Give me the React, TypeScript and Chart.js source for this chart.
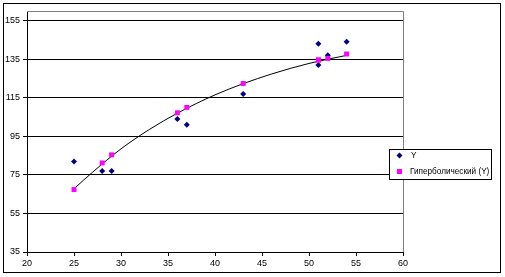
import React, { useEffect, useRef } from 'react';
import { Chart, registerables } from 'chart.js';

Chart.register(...registerables);

// Data
const xValues = [25, 28, 29, 36, 37, 43, 51, 51, 52, 54];
const yActual = [82, 77, 77, 104, 101, 117, 143, 132, 137, 144];
const yHyperbolic = [67.4, 81.2, 85.4, 107.2, 110.0, 122.4, 134.6, 134.6, 135.4, 137.7];
const trendX = [25, 27, 30, 33, 36, 40, 43, 46, 50, 54];
const trendY = [67.8, 76.5, 88.5, 98.5, 107, 116.5, 122.3, 127.3, 132.8, 137.0];
const seriesNames = ['Y', 'Гиперболический (Y)'];
const xTicks = [20, 25, 30, 35, 40, 45, 50, 55, 60];
const yTicks = [35, 55, 75, 95, 115, 135, 155];

const FONT = '"Liberation Sans", Arial, sans-serif';
const NAVY = '#000080';
const MAGENTA = '#FF00FF';

const framePlugin = {
  id: 'framePlugin',
  beforeDraw(chart: any) {
    const ctx = chart.ctx;
    ctx.save();
    ctx.fillStyle = '#ffffff';
    ctx.fillRect(0, 0, chart.width, chart.height);
    ctx.restore();
  },
  afterDraw(chart: any) {
    const ctx = chart.ctx;
    const a = chart.chartArea;
    ctx.save();
    // plot area top and right border (gray)
    ctx.strokeStyle = '#808080';
    ctx.lineWidth = 1;
    ctx.beginPath();
    ctx.moveTo(a.left, a.top + 0.5);
    ctx.lineTo(a.right + 0.5, a.top + 0.5);
    ctx.lineTo(a.right + 0.5, a.bottom);
    ctx.stroke();
    // outer frame
    ctx.strokeStyle = '#000000';
    ctx.strokeRect(3.5, 3.5, 497, 269);
    // legend box
    const lx = 389, ly = 149, lw = 102, lh = 30;
    ctx.fillStyle = '#ffffff';
    ctx.fillRect(lx, ly, lw, lh);
    ctx.strokeRect(lx + 0.5, ly + 0.5, lw, lh);
    // legend item 1: diamond
    const dx = 399.5, dy = 155.5;
    ctx.fillStyle = NAVY;
    ctx.beginPath();
    ctx.moveTo(dx, dy - 3);
    ctx.lineTo(dx + 3, dy);
    ctx.lineTo(dx, dy + 3);
    ctx.lineTo(dx - 3, dy);
    ctx.closePath();
    ctx.fill();
    // legend item 2: square
    ctx.fillStyle = MAGENTA;
    ctx.fillRect(397, 169, 5, 5);
    ctx.fillStyle = '#000000';
    ctx.font = '8.2px ' + FONT;
    ctx.textBaseline = 'middle';
    ctx.textAlign = 'left';
    ctx.fillText(seriesNames[0], 411, 156);
    ctx.fillText(seriesNames[1], 410, 172);
    ctx.restore();
  },
};

export default function App() {
  const ref = useRef<HTMLCanvasElement>(null);
  useEffect(() => {
    if (!ref.current) return;
    const chart = new Chart(ref.current, {
      type: 'scatter',
      data: {
        datasets: [
          {
            label: seriesNames[1],
            data: xValues.map((x, i) => ({ x, y: yHyperbolic[i] })),
            pointStyle: 'rect',
            pointRadius: 3.5,
            backgroundColor: MAGENTA,
            borderColor: MAGENTA,
            borderWidth: 0,
            order: 1,
          },
          {
            label: seriesNames[0],
            data: xValues.map((x, i) => ({ x, y: yActual[i] })),
            pointStyle: 'rectRot',
            pointRadius: 3,
            backgroundColor: NAVY,
            borderColor: NAVY,
            borderWidth: 0,
            order: 2,
          },
          {
            label: 'trend',
            data: trendX.map((x, i) => ({ x, y: trendY[i] })),
            showLine: true,
            pointRadius: 0,
            borderColor: '#000000',
            borderWidth: 1,
            cubicInterpolationMode: 'monotone',
            order: 3,
          },
        ],
      },
      options: {
        responsive: false,
        animation: false,
        devicePixelRatio: 1,
        layout: { padding: { left: 0, top: 11, right: 102, bottom: 0 } },
        plugins: {
          legend: { display: false },
          tooltip: { enabled: false },
        },
        scales: {
          x: {
            type: 'linear',
            min: 20,
            max: 60,
            afterFit: (s: any) => { s.height = 25; },
            afterBuildTicks: (s: any) => { s.ticks = xTicks.map((v) => ({ value: v })); },
            ticks: { color: '#000', font: { family: FONT, size: 9 }, padding: 2, maxRotation: 0 },
            grid: { drawOnChartArea: false, color: '#000', tickLength: 4, tickColor: '#000' },
            border: { color: '#000', width: 1 },
          },
          y: {
            type: 'linear',
            min: 35,
            max: 160,
            afterFit: (s: any) => { s.width = 27; },
            afterBuildTicks: (s: any) => { s.ticks = yTicks.map((v) => ({ value: v })); },
            ticks: { color: '#000', font: { family: FONT, size: 9 }, padding: 3 },
            grid: { color: '#000', tickLength: 4, tickColor: '#000', lineWidth: 1 },
            border: { color: '#000', width: 1 },
          },
        },
      },
      plugins: [framePlugin],
    } as any);
    return () => chart.destroy();
  }, []);
  return (
    <div style={{ position: 'absolute', left: 0, top: 0, width: 505, height: 277 }}>
      <canvas ref={ref} width={505} height={277} style={{ width: 505, height: 277 }} />
    </div>
  );
}
